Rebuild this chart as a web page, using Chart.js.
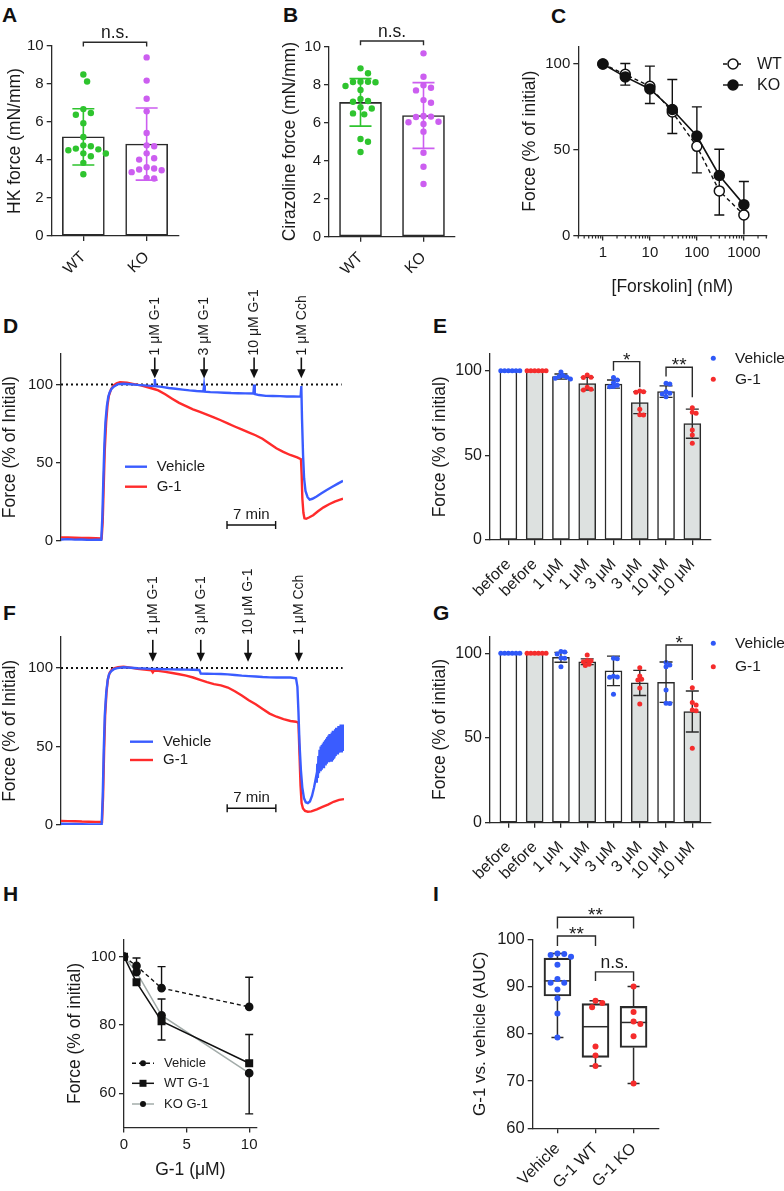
<!DOCTYPE html>
<html><head><meta charset="utf-8"><title>Figure</title>
<script src="https://cdn.jsdelivr.net/npm/chart.js@4.4.1/dist/chart.umd.min.js"></script>
<style>
html,body{margin:0;padding:0;background:#fff}
body{position:relative;width:784px;height:1191px;overflow:hidden}
canvas{position:absolute}
.lab{position:absolute;font-family:'Liberation Sans',Arial,sans-serif;font-weight:bold;font-size:21px;line-height:21px;color:#111}
</style></head><body>
<div class="lab" style="left:2px;top:4px">A</div>
<div class="lab" style="left:283px;top:4px">B</div>
<div class="lab" style="left:551px;top:5px">C</div>
<div class="lab" style="left:3px;top:315px">D</div>
<div class="lab" style="left:433px;top:315px">E</div>
<div class="lab" style="left:3px;top:602px">F</div>
<div class="lab" style="left:433px;top:602px">G</div>
<div class="lab" style="left:3px;top:883px">H</div>
<div class="lab" style="left:433px;top:883px">I</div>
<script>
// ================= DATA =================
// Panel A / B
const catsAB = ['WT', 'KO'];
const A_mean = [5.22, 4.84];
const A_sd = [1.48, 1.90];
const A_WT = [8.5, 8.13, 6.68, 6.47, 6.38, 5.94, 5.21, 4.77, 4.72, 4.6, 4.56, 4.51, 4.35, 4.34, 4.2, 3.85, 3.25];
const A_KO = [9.4, 8.18, 7.22, 6.56, 5.42, 4.77, 4.72, 4.35, 4.09, 4.02, 3.62, 3.55, 3.5, 3.46, 3.36, 3.06, 3.03];
const A_sig = [{from: 0, to: 1, y: 10.2, legs: [9.97, 9.97], text: 'n.s.'}];
const B_mean = [7.07, 6.38];
const B_sd = [1.25, 1.73];
const B_WT = [8.86, 8.6, 8.16, 8.15, 8.14, 8.13, 7.93, 7.72, 7.25, 7.14, 7.1, 6.81, 6.75, 6.49, 6.44, 5.14, 5.0, 4.46];
const B_KO = [9.65, 8.42, 7.97, 7.84, 7.7, 7.19, 7.05, 6.35, 6.32, 6.3, 6.05, 6.02, 5.93, 5.53, 4.42, 3.68, 2.77];
const B_sig = [{from: 0, to: 1, y: 10.3, legs: [10.08, 10.08], text: 'n.s.'}];

// Panel C
const C_forskolin = [1, 3, 10, 30, 100, 300, 1000];
const C_WT = [100, 94, 87, 72, 52, 26, 12];
const C_KO = [100, 92.5, 85.5, 73.5, 58, 35, 18];
const C_errHigh = [null, 100.3, 98.8, 91, 75, 50.3, 31.5];
const C_errLow = [null, 87.7, 77, 59.5, 36.5, 12, -3];
const C_ticks = [1, 10, 100, 1000];

// Panel D (time in min, force % of initial)
const D_vehicle = [[0,1.0],[1,1.2],[2,0.9],[3,1.0],[4,0.7],[5,0.8],[5.8,0.8],[5.95,15],[6.1,40],[6.25,62],[6.4,76],[6.6,86],[6.8,92],[7.0,95],[7.3,97.5],[7.7,99],[8.2,100.3],[9,100.5],[10,100.2],[11,99.8],[12,99.5],[13,99.2],[13.45,99],[13.5,103.5],[13.6,99],[14.5,98.5],[15.5,97.8],[16.5,97.3],[17.5,96.8],[18.5,96.3],[19.5,95.9],[20.5,95.6],[20.6,99.5],[20.7,95.5],[21.5,95.2],[22.5,95],[23.5,94.8],[24.5,94.6],[25.5,94.5],[26.5,94.4],[27.7,94.3],[27.8,100],[27.9,94],[28.5,93.3],[29.5,92.8],[30.5,92.7],[31.5,92.6],[32.5,92.4],[33.5,92.4],[34.5,92.3],[34.6,99],[34.7,78],[34.85,55],[35.0,40],[35.2,32],[35.5,28],[35.8,26.5],[36.2,27],[36.8,28.5],[37.5,30.5],[38.2,32.5],[39.0,34.5],[39.8,36.5],[40.6,38.5]];
const D_G1 = [[0,2.3],[1,2.2],[2,2.1],[3,2.0],[4,1.9],[5,1.8],[5.85,1.6],[6.0,12],[6.15,35],[6.3,58],[6.5,76],[6.7,87],[6.9,93],[7.2,97],[7.6,99.5],[8.0,100.8],[8.5,101.5],[9.5,101.2],[10.5,100.3],[11.5,99.5],[12.5,98.3],[13.5,97],[14.0,96.3],[15,93.8],[16,91],[17,88.3],[18,86.2],[19,84.2],[20,82.5],[21,80.8],[22,79],[23,77.2],[24,75.2],[25,73.2],[26,71.3],[27,69.5],[28,67.6],[29,65.4],[30,62.3],[31,59.3],[32,57],[33,55],[34,53.5],[34.55,52.3],[34.65,42],[34.75,27],[34.9,18],[35.05,14.5],[35.3,14.2],[35.7,15],[36.3,16.5],[37,19],[37.8,21.5],[38.6,23.5],[39.4,25.2],[40.2,26.5],[40.6,27]];
const D_arrowTimes = [13.5, 20.6, 27.8, 34.6];
const arrowLabels = ['1 μM G-1', '3 μM G-1', '10 μM G-1', '1 μM Cch'];

// Panel F
const F_vehicle = [[0,0.8],[1,0.7],[2,0.6],[3,0.5],[4,0.4],[5,0.4],[5.85,0.5],[6.0,18],[6.15,48],[6.3,70],[6.5,84],[6.7,92],[6.9,96],[7.2,98],[7.6,99.3],[8.1,100],[9,100.5],[10,100.2],[11,99.9],[12,99.7],[13,99.5],[14,99.4],[15,99.3],[16,99.2],[17,99.1],[18,99],[19,98.9],[19.9,98.8],[20.1,96.5],[21,96.4],[22,96.3],[23,96.2],[24,96],[25,95.6],[26,95.2],[27,94.9],[28,94.6],[29,94.3],[30,94.1],[31,94],[32,94],[33,94],[33.8,93.5],[34.0,88],[34.15,72],[34.3,52],[34.5,35],[34.7,24],[34.95,17],[35.2,14.5],[35.5,14],[35.8,15],[36.1,18.5],[36.4,24],[36.7,31],[36.78,27],[36.86,39],[36.94,30],[37.02,44],[37.10,33],[37.18,48],[37.26,35],[37.34,50],[37.42,36],[37.50,51],[37.58,37],[37.66,52],[37.74,37],[37.82,53],[37.90,38],[37.98,54],[38.06,38],[38.14,55],[38.22,39],[38.30,56],[38.38,40],[38.46,57],[38.54,40],[38.62,58],[38.70,41],[38.78,58],[38.86,41],[38.94,59],[39.02,42],[39.10,60],[39.18,43],[39.26,60],[39.34,43],[39.42,61],[39.50,44],[39.58,62],[39.66,45],[39.74,62],[39.82,45],[39.90,63],[39.98,46],[40.06,63],[40.14,47],[40.22,64],[40.30,47],[40.38,64],[40.46,48],[40.54,64],[40.62,49],[40.68,60]];
const F_G1 = [[0,2.6],[1,2.5],[2,2.4],[3,2.2],[4,2.1],[5,2.0],[5.9,1.9],[6.05,18],[6.2,47],[6.35,70],[6.55,85],[6.75,93],[7.0,97],[7.3,99],[7.7,100],[8.2,100.6],[9,100.8],[10,100.3],[11,99.6],[12,99],[13,98.6],[13.2,97.3],[13.35,98.3],[14,98.2],[15,97.6],[16,96.9],[17,96.1],[18,95.2],[19,94],[20,92.5],[21,91],[22,89.8],[23,89],[24,87.6],[25,85.2],[26,82.5],[27,79.5],[28,77],[29,74],[30,71],[31,69],[32,67.5],[33,66.3],[33.8,65.8],[34.0,65.5],[34.15,64.8],[34.3,45],[34.45,25],[34.6,14],[34.8,10.5],[35.1,9],[35.5,8.5],[36,8.7],[36.8,10],[37.6,11.5],[38.4,13],[39.2,14.8],[40,16],[40.7,16.5]];
const F_arrowTimes = [13.2, 20.1, 26.9, 34.2];

// Panels E / G
const EG_cats = ['before', 'before', '1 μM', '1 μM', '3 μM', '3 μM', '10 μM', '10 μM'];
const E_vehicleMean = [100, 96.5, 92.1, 87.6];
const E_vehicleSD = [0, 1.5, 2.4, 3.4];
const E_g1Mean = [100, 92.3, 81.1, 68.7];
const E_g1SD = [0, 3.7, 6.5, 8.6];
const E_vehiclePts = [[100,100,100,100,100,100],[99.2,97.2,96.5,96.2,95.5,95.0],[96.0,94.5,92.9,91.3,90.6,90.5],[92.5,92.1,87.6,86.6,86.2,84.6]];
const E_g1Pts = [[100,100,100,100,100,100],[97.4,96.1,95.9,90.2,89.0,88.6],[88.0,87.6,87.2,77.2,74.0,73.8],[78.1,75.4,74.8,65.0,62.0,57.1]];
const E_sig = [{from: 4, to: 5, y: 105.3, legs: [100, 90.2], text: '*'}, {from: 6, to: 7, y: 102, legs: [96.5, 84.3], text: '**'}];
const G_vehicleMean = [100, 97.6, 89.6, 82.9];
const G_vehicleSD = [0, 2.9, 8.7, 11.9];
const G_g1Mean = [100, 95.0, 82.5, 65.6];
const G_g1SD = [0, 1.7, 7.4, 12.1];
const G_vehiclePts = [[100,100,100,100,100,100],[101,100.8,99.6,97.2,97.0,92.1],[97.0,96.8,86.4,86.0,85.8,75.8],[94.5,93.1,92.1,78.3,70.5,70.3]];
const G_g1Pts = [[100,100,100,100,100,100],[99.0,95.7,95.5,95.0,93.5,92.8],[91.5,86.6,84.6,84.2,79.5,70.1],[79.7,70.9,69.5,66.5,66.1,43.9]];
const G_sig = [{from: 6, to: 7, y: 104.9, legs: [94.5, 84.2], text: '*'}];

// Panel H
const H_dose = [0, 1, 3, 10];
const H_vehicle = [100, 97.3, 90.8, 85.3];
const H_wtG1 = [100, 92.5, 81.1, 68.8];
const H_koG1 = [100, 95.5, 82.8, 65.9];
const H_vehicleHigh = [null, 99.6, 97.1, 94.0];
const H_wtHigh = [null, null, 87.6, 77.2];
const H_wtLow = [null, null, 75.6, null];
const H_koLow = [null, null, null, 54.0];

// Panel I
const I_cats = ['Vehicle', 'G-1 WT', 'G-1 KO'];
const I_min = [79.2, 73.2, 69.5];
const I_q1 = [88.0, 75.0, 77.1];
const I_median = [91.2, 81.5, 82.4];
const I_q3 = [96.0, 86.4, 85.8];
const I_max = [97.0, 87.0, 90.0];
const I_vehicle = [97.0, 96.9, 96.7, 96.3, 94.6, 91.6, 90.8, 90.8, 89.4, 87.5, 84.3, 79.2];
const I_wt = [87.0, 86.5, 85.6, 77.3, 75.4, 73.2];
const I_ko = [90.0, 84.6, 82.6, 82.1, 79.5, 69.5];
const I_sig = [{from: 0, to: 2, y: 104.66, legs: [102.3, 102.3], text: '**'}, {from: 0, to: 1, y: 100.7, legs: [98.6, 98.6], text: '**'}, {from: 1, to: 2, y: 93.1, legs: [91.2, 91.2], text: 'n.s.'}];

// ================= HELPERS =================
const FONT = "'Liberation Sans', Arial, Helvetica, sans-serif";
const INK = '#2a2a2a', TXT = '#1a1a1a';
const GREEN = '#2ec42e', MAGENTA = '#cc5ef0';
const BLUE = '#2f58f7', RED = '#f52c2c';
const TRACE_BLUE = '#3a5cff', TRACE_RED = '#ff2b2b';
const GREYBAR = '#dde1e0';
Chart.defaults.font.family = FONT;
Chart.defaults.color = TXT;
Chart.defaults.animation = false;
Chart.defaults.plugins.legend.display = false;
Chart.defaults.plugins.tooltip.enabled = false;

function canvasAt(b) {
  const c = document.createElement('canvas');
  c.width = b.w; c.height = b.h;
  c.style.left = b.x + 'px'; c.style.top = b.y + 'px';
  c.style.width = b.w + 'px'; c.style.height = b.h + 'px';
  document.body.appendChild(c);
  return c;
}
function layoutOf(b, a, tcx, tlh, noX) {
  const pl = (tcx == null) ? 0 : Math.max(0, tcx - tlh / 2 - b.x);
  const xh = b.y + b.h - a.b;
  return {padding: {left: pl, top: a.t - b.y, right: b.x + b.w - a.r, bottom: noX ? xh : 0},
          yW: a.l - b.x - pl, xH: xh};
}
const gridOpt = () => ({drawOnChartArea: false, drawTicks: true, tickLength: 5, color: INK, lineWidth: 1.3, offset: false});
const borderOpt = () => ({color: INK, width: 1.3});
function yScale(L, min, max, ticks, title, tsize, fsize) {
  return {type: 'linear', min, max,
    afterFit: s => { s.width = L.yW; },
    afterBuildTicks: s => { s.ticks = ticks.map(v => ({value: v})); },
    ticks: {font: {size: fsize || 15}, color: TXT, padding: 3, callback: v => String(v)},
    grid: gridOpt(), border: borderOpt(),
    title: {display: !!title, text: title || '', font: {size: tsize || 17.5}, color: TXT, padding: 0}};
}
function xCat(L, min, max, labels, size, pad) {
  return {type: 'linear', min, max, offset: false,
    afterFit: s => { s.height = L.xH; },
    afterBuildTicks: s => { s.ticks = labels.map((_, i) => ({value: i})); },
    ticks: {font: {size: size || 15}, color: TXT, minRotation: 45, maxRotation: 45, autoSkip: false, padding: pad,
            callback: v => labels[v]},
    grid: gridOpt(), border: borderOpt()};
}
function swarm(vals, cx, d, pxX, pxY) {
  const placed = [], out = [], s = d / 2;
  for (const v of vals) {
    const py = v * pxY; let off = 0;
    for (let k = 0; k < 80; k++) {
      const o = k === 0 ? 0 : (k % 2 ? 1 : -1) * Math.ceil(k / 2) * s;
      if (placed.every(p => (o - p.o) ** 2 + (py - p.py) ** 2 >= d * d - 0.01)) { off = o; break; }
    }
    placed.push({o: off, py}); out.push({x: cx + off / pxX, y: v});
  }
  return out;
}
function errLine(ctx, xs, ys, x, from, to, cap, color, lw) {
  if (to == null) return;
  const X = xs.getPixelForValue(x), Y0 = ys.getPixelForValue(from), Y1 = ys.getPixelForValue(to);
  ctx.save(); ctx.strokeStyle = color; ctx.lineWidth = lw;
  ctx.beginPath(); ctx.moveTo(X, Y0); ctx.lineTo(X, Y1);
  ctx.moveTo(X - cap, Y1); ctx.lineTo(X + cap, Y1); ctx.stroke(); ctx.restore();
}
function bracket(chart, b) {
  const {ctx, scales: {x, y}} = chart;
  const x1 = x.getPixelForValue(b.from), x2 = x.getPixelForValue(b.to), Y = y.getPixelForValue(b.y);
  const y1 = y.getPixelForValue(b.legs[0]), y2 = y.getPixelForValue(b.legs[1]);
  ctx.save(); ctx.strokeStyle = INK; ctx.lineWidth = 1.4;
  ctx.beginPath(); ctx.moveTo(x1, y1); ctx.lineTo(x1, Y); ctx.lineTo(x2, Y); ctx.lineTo(x2, y2); ctx.stroke();
  const star = b.text.startsWith('*');
  ctx.fillStyle = TXT; ctx.textAlign = 'center'; ctx.textBaseline = 'alphabetic';
  ctx.font = (star ? '19px ' : '17.5px ') + FONT;
  ctx.fillText(b.text, (x1 + x2) / 2, star ? Y + 4 : Y - 4);
  ctx.restore();
}
function baseOpts(L) {
  return {responsive: false, maintainAspectRatio: false, devicePixelRatio: 1, animation: false,
          layout: {padding: L.padding}, plugins: {legend: {display: false}, tooltip: {enabled: false}}};
}

// ================= PANELS A & B =================
function makeAB(box, area, tcx, title, mean, sd, wt, ko, sig) {
  const L = layoutOf(box, area, tcx, 21);
  const xmin = -0.5, xmax = 1.5, ymin = 0, ymax = 10;
  const pxX = (area.r - area.l) / (xmax - xmin), pxY = (area.b - area.t) / (ymax - ymin);
  const colors = [GREEN, MAGENTA];
  const opts = baseOpts(L);
  opts.scales = {x: xCat(L, xmin, xmax, catsAB, 15.5, 7), y: yScale(L, ymin, ymax, [0, 2, 4, 6, 8, 10], title)};
  new Chart(canvasAt(box), {
    type: 'bar',
    data: {datasets: [
      {type: 'scatter', data: swarm(wt, 0, 7.5, pxX, pxY), backgroundColor: GREEN, borderWidth: 0, pointRadius: 3.2},
      {type: 'scatter', data: swarm(ko, 1, 7.5, pxX, pxY), backgroundColor: MAGENTA, borderWidth: 0, pointRadius: 3.2},
      {type: 'bar', data: mean.map((m, i) => ({x: i, y: m})), backgroundColor: '#ffffff', borderColor: INK,
       borderWidth: 1.6, borderSkipped: false, barThickness: 42}
    ]},
    options: opts,
    plugins: [{id: 'ab',
      afterDatasetDraw(ch, args) {
        if (args.index !== 2) return;
        const {ctx, scales: {x, y}} = ch;
        mean.forEach((m, i) => {
          errLine(ctx, x, y, i, m, m + sd[i], 11, colors[i], 1.6);
          errLine(ctx, x, y, i, m, m - sd[i], 11, colors[i], 1.6);
        });
      },
      afterDraw(ch) { sig.forEach(b => bracket(ch, b)); }
    }]
  });
}
makeAB({x: 0, y: 0, w: 195, h: 280}, {l: 51.7, t: 46, r: 178.3, b: 236}, 15.5, 'HK force (mN/mm)', A_mean, A_sd, A_WT, A_KO, A_sig);
makeAB({x: 262, y: 0, w: 210, h: 280}, {l: 329, t: 46.7, r: 455, b: 236.7}, 290, 'Cirazoline force (mN/mm)', B_mean, B_sd, B_WT, B_KO, B_sig);

// ================= PANEL C =================
(function () {
  const box = {x: 519, y: 0, w: 265, h: 298}, area = {l: 578.3, t: 46.9, r: 766.3, b: 235.5};
  const L = layoutOf(box, area, 530, 21);
  const opts = baseOpts(L);
  opts.scales = {
    x: {type: 'logarithmic', min: 0.3, max: 3000, offset: false,
        afterFit: s => { s.height = L.xH; },
        afterBuildTicks: s => { s.ticks = C_ticks.map(v => ({value: v})); },
        ticks: {font: {size: 15}, color: TXT, padding: 3, maxRotation: 0, autoSkip: false, callback: v => String(v)},
        grid: gridOpt(), border: borderOpt(),
        title: {display: true, text: '[Forskolin] (nM)', font: {size: 17.5}, color: TXT, padding: 0}},
    y: yScale(L, 0, 110, [0, 50, 100], 'Force (% of initial)')
  };
  new Chart(canvasAt(box), {
    type: 'line',
    data: {datasets: [
      {label: 'KO', data: C_forskolin.map((x, i) => ({x, y: C_KO[i]})), borderColor: '#111', borderWidth: 1.6,
       pointRadius: 5, pointBackgroundColor: '#111', pointBorderColor: '#111', pointBorderWidth: 1.5},
      {label: 'WT', data: C_forskolin.map((x, i) => ({x, y: C_WT[i]})), borderColor: '#111', borderWidth: 1.4, borderDash: [4, 3],
       pointRadius: 5, pointBackgroundColor: '#fff', pointBorderColor: '#111', pointBorderWidth: 1.5}
    ]},
    options: opts,
    plugins: [{id: 'c',
      beforeDatasetsDraw(ch) {
        const {ctx, chartArea: a, scales: {x, y}} = ch;
        ctx.save(); ctx.beginPath(); ctx.rect(a.left, a.top - 2, a.right - a.left, a.bottom - a.top + 1); ctx.clip();
        C_forskolin.forEach((f, i) => {
          if (C_errHigh[i] == null) return;
          const mid = (C_WT[i] + C_KO[i]) / 2;
          errLine(ctx, x, y, f, mid, C_errHigh[i], 5, '#111', 1.4);
          errLine(ctx, x, y, f, mid, C_errLow[i], 5, '#111', 1.4);
        });
        ctx.restore();
      },
      afterDraw(ch) {
        const {ctx, chartArea: a, scales: {x}} = ch;
        ctx.save(); ctx.strokeStyle = INK; ctx.lineWidth = 1.2; ctx.beginPath();
        for (const dec of [0.1, 1, 10, 100, 1000]) for (let m = 2; m <= 9; m++) {
          const v = m * dec; if (v < 0.3 - 1e-9 || v > 3000 + 1e-6) continue;
          const X = x.getPixelForValue(v); ctx.moveTo(X, a.bottom); ctx.lineTo(X, a.bottom + 3);
        }
        ctx.stroke();
        // legend
        const rows = [{t: 'WT', dash: [4, 3], fill: '#fff', y: 64}, {t: 'KO', dash: [], fill: '#111', y: 85}];
        ctx.font = '16px ' + FONT; ctx.textBaseline = 'middle'; ctx.textAlign = 'left';
        rows.forEach(r => {
          ctx.setLineDash(r.dash); ctx.lineWidth = 1.4; ctx.strokeStyle = '#111';
          ctx.beginPath(); ctx.moveTo(204, r.y); ctx.lineTo(224, r.y); ctx.stroke(); ctx.setLineDash([]);
          ctx.beginPath(); ctx.arc(214, r.y, 5, 0, Math.PI * 2); ctx.fillStyle = r.fill; ctx.fill(); ctx.lineWidth = 1.5; ctx.stroke();
          ctx.fillStyle = TXT; ctx.fillText(r.t, 238, r.y + 1);
        });
        ctx.restore();
      }
    }]
  });
})();

// ================= PANELS D & F =================
function makeTrace(box, area, xmax, vehicle, g1, arrows, cfg) {
  const L = layoutOf(box, area, 10.5, 21, true);
  const opts = baseOpts(L);
  opts.scales = {
    x: {type: 'linear', display: false, min: 0, max: xmax, offset: false},
    y: yScale(L, 0, 120, [0, 50, 100], 'Force (% of Initial)')
  };
  new Chart(canvasAt(box), {
    type: 'line',
    data: {datasets: [
      {label: 'Vehicle', data: vehicle.map(p => ({x: p[0], y: p[1]})), borderColor: TRACE_BLUE, borderWidth: 2.4, pointRadius: 0, tension: 0},
      {label: 'G-1', data: g1.map(p => ({x: p[0], y: p[1]})), borderColor: TRACE_RED, borderWidth: 2.4, pointRadius: 0, tension: 0}
    ]},
    options: opts,
    plugins: [{id: 'trace',
      beforeDatasetsDraw(ch) {
        const {ctx, scales: {x, y}} = ch;
        ctx.save(); ctx.strokeStyle = '#111'; ctx.lineWidth = 2; ctx.setLineDash([2, 3]);
        ctx.beginPath(); ctx.moveTo(x.getPixelForValue(0), y.getPixelForValue(100)); ctx.lineTo(x.getPixelForValue(cfg.dotEnd), y.getPixelForValue(100)); ctx.stroke();
        ctx.restore();
      },
      afterDraw(ch) {
        const {ctx, chartArea: a, scales: {x, y}} = ch;
        ctx.save();
        // arrows
        arrows.forEach((t, i) => {
          const X = x.getPixelForValue(t), tip = y.getPixelForValue(104), top = y.getPixelForValue(cfg.arrowTop);
          ctx.strokeStyle = '#111'; ctx.fillStyle = '#111'; ctx.lineWidth = 1.6;
          ctx.beginPath(); ctx.moveTo(X, top); ctx.lineTo(X, tip - 6); ctx.stroke();
          ctx.beginPath(); ctx.moveTo(X - 4.2, tip - 9); ctx.lineTo(X + 4.2, tip - 9); ctx.lineTo(X, tip); ctx.closePath(); ctx.fill();
          ctx.save(); ctx.translate(X + 0.5, top - cfg.textGap); ctx.rotate(-Math.PI / 2);
          ctx.font = '14px ' + FONT; ctx.textAlign = 'left'; ctx.textBaseline = 'middle'; ctx.fillStyle = TXT;
          ctx.fillText(arrowLabels[i], 0, 0); ctx.restore();
        });
        // legend
        ctx.font = '15px ' + FONT; ctx.textAlign = 'left'; ctx.textBaseline = 'middle';
        [[TRACE_BLUE, 'Vehicle', cfg.legY[0]], [TRACE_RED, 'G-1', cfg.legY[1]]].forEach(([c, t, ly]) => {
          ctx.strokeStyle = c; ctx.lineWidth = 2.4;
          ctx.beginPath(); ctx.moveTo(cfg.legX[0], ly); ctx.lineTo(cfg.legX[1], ly); ctx.stroke();
          ctx.fillStyle = TXT; ctx.fillText(t, cfg.legX[2], ly);
        });
        // scale bar 7 min
        const x1 = x.getPixelForValue(cfg.barStart), x2 = x.getPixelForValue(cfg.barStart + 7), by = a.bottom - cfg.barUp;
        ctx.strokeStyle = '#111'; ctx.lineWidth = 1.4;
        ctx.beginPath(); ctx.moveTo(x1, by); ctx.lineTo(x2, by);
        ctx.moveTo(x1, by - 4); ctx.lineTo(x1, by + 4); ctx.moveTo(x2, by - 4); ctx.lineTo(x2, by + 4); ctx.stroke();
        ctx.fillStyle = TXT; ctx.textAlign = 'center'; ctx.textBaseline = 'alphabetic';
        ctx.fillText('7 min', (x1 + x2) / 2, by - 6);
        ctx.restore();
      }
    }]
  });
}
makeTrace({x: 0, y: 280, w: 360, h: 280}, {l: 61, t: 353.3, r: 343, b: 541}, 40.6, D_vehicle, D_G1, D_arrowTimes,
  {dotEnd: 40.4, arrowTop: 117.3, textGap: 2, legY: [186.7, 206.7], legX: [125, 147, 156.7], barStart: 23.9, barUp: 16});
makeTrace({x: 0, y: 565, w: 360, h: 280}, {l: 61, t: 636.7, r: 344, b: 825}, 40.7, F_vehicle, F_G1, F_arrowTimes,
  {dotEnd: 40.5, arrowTop: 118, textGap: 5, legY: [176.7, 195], legX: [130, 153, 163], barStart: 23.9, barUp: 16.7});

// ================= PANELS E & G =================
function makeEG(box, area, vMean, vSD, gMean, gSD, vPts, gPts, sig, legY) {
  const L = layoutOf(box, area, 440.5, 21);
  const xmin = -0.7, xmax = 7.7, ymin = 0, ymax = 110;
  const pxX = (area.r - area.l) / (xmax - xmin), pxY = (area.b - area.t) / (ymax - ymin);
  const bars = [], fills = [];
  vMean.forEach((m, k) => { bars.push({x: 2 * k, y: m}, {x: 2 * k + 1, y: gMean[k]}); fills.push('#ffffff', GREYBAR); });
  const vDots = [], gDots = [];
  vPts.forEach((arr, k) => vDots.push(...swarm(arr, 2 * k, 3.8, pxX, pxY)));
  gPts.forEach((arr, k) => gDots.push(...swarm(arr, 2 * k + 1, 3.8, pxX, pxY)));
  const opts = baseOpts(L);
  opts.scales = {x: xCat(L, xmin, xmax, EG_cats, 16, 10), y: yScale(L, ymin, ymax, [0, 50, 100], 'Force (% of initial)', 17.5, 16)};
  new Chart(canvasAt(box), {
    type: 'bar',
    data: {datasets: [
      {type: 'scatter', data: vDots, backgroundColor: BLUE, borderWidth: 0, pointRadius: 2.5},
      {type: 'scatter', data: gDots, backgroundColor: RED, borderWidth: 0, pointRadius: 2.5},
      {type: 'bar', data: bars, backgroundColor: fills, borderColor: INK, borderWidth: 1.5, borderSkipped: false, barThickness: 17}
    ]},
    options: opts,
    plugins: [{id: 'eg',
      afterDatasetDraw(ch, args) {
        if (args.index !== 2) return;
        const {ctx, scales: {x, y}} = ch;
        vMean.forEach((m, k) => {
          if (vSD[k] > 0) { errLine(ctx, x, y, 2 * k, m, m + vSD[k], 6.5, INK, 1.4); errLine(ctx, x, y, 2 * k, m, m - vSD[k], 6.5, INK, 1.4); }
          const g = gMean[k];
          if (gSD[k] > 0) { errLine(ctx, x, y, 2 * k + 1, g, g + gSD[k], 6.5, INK, 1.4); errLine(ctx, x, y, 2 * k + 1, g, g - gSD[k], 6.5, INK, 1.4); }
        });
      },
      afterDraw(ch) {
        sig.forEach(b => bracket(ch, b));
        const ctx = ch.ctx; ctx.save();
        ctx.font = '15.5px ' + FONT; ctx.textAlign = 'left'; ctx.textBaseline = 'middle';
        [[BLUE, 'Vehicle', legY[0]], [RED, 'G-1', legY[1]]].forEach(([c, t, ly]) => {
          ctx.fillStyle = c; ctx.beginPath(); ctx.arc(293.3, ly, 2.5, 0, Math.PI * 2); ctx.fill();
          ctx.fillStyle = TXT; ctx.fillText(t, 315, ly);
        });
        ctx.restore();
      }
    }]
  });
}
makeEG({x: 420, y: 330, w: 364, h: 290}, {l: 490, t: 353.7, r: 710.7, b: 540}, E_vehicleMean, E_vehicleSD, E_g1Mean, E_g1SD, E_vehiclePts, E_g1Pts, E_sig, [28.3, 49.3]);
makeEG({x: 420, y: 615, w: 364, h: 290}, {l: 490, t: 636.3, r: 710.7, b: 822.7}, G_vehicleMean, G_vehicleSD, G_g1Mean, G_g1SD, G_vehiclePts, G_g1Pts, G_sig, [28.3, 51.7]);

// ================= PANEL H =================
(function () {
  const box = {x: 60, y: 920, w: 210, h: 261}, area = {l: 124, t: 939.6, r: 256.7, b: 1127.5};
  const L = layoutOf(box, area, 75, 21);
  const opts = baseOpts(L);
  opts.scales = {
    x: {type: 'linear', min: 0, max: 10.6, offset: false,
        afterFit: s => { s.height = L.xH; },
        afterBuildTicks: s => { s.ticks = [0, 5, 10].map(v => ({value: v})); },
        ticks: {font: {size: 15}, color: TXT, padding: 3, maxRotation: 0, callback: v => String(v)},
        grid: gridOpt(), border: borderOpt(),
        title: {display: true, text: 'G-1 (μM)', font: {size: 17.5}, color: TXT, padding: 0}},
    y: yScale(L, 50, 105, [60, 80, 100], 'Force (% of initial)')
  };
  const KO_LINE = '#a3acaa';
  new Chart(canvasAt(box), {
    type: 'line',
    data: {datasets: [
      {label: 'Vehicle', data: H_dose.map((x, i) => ({x, y: H_vehicle[i]})), borderColor: '#111', borderWidth: 1.4, borderDash: [4, 3],
       pointRadius: 3.6, pointBackgroundColor: '#111', pointBorderColor: '#111'},
      {label: 'WT G-1', data: H_dose.map((x, i) => ({x, y: H_wtG1[i]})), borderColor: '#111', borderWidth: 1.5,
       pointStyle: 'rect', pointRadius: 4.6, pointBackgroundColor: '#111', pointBorderColor: '#111'},
      {label: 'KO G-1', data: H_dose.map((x, i) => ({x, y: H_koG1[i]})), borderColor: KO_LINE, borderWidth: 1.5,
       pointRadius: 3.6, pointBackgroundColor: '#111', pointBorderColor: '#111'}
    ]},
    options: opts,
    plugins: [{id: 'h',
      beforeDatasetsDraw(ch) {
        const {ctx, scales: {x, y}} = ch;
        H_dose.forEach((d, i) => {
          errLine(ctx, x, y, d, H_vehicle[i], H_vehicleHigh[i], 4, '#111', 1.4);
          errLine(ctx, x, y, d, H_wtG1[i], H_wtHigh[i], 4, '#111', 1.4);
          errLine(ctx, x, y, d, H_wtG1[i], H_wtLow[i], 4, '#111', 1.4);
          errLine(ctx, x, y, d, H_koG1[i], H_koLow[i], 4, '#111', 1.4);
        });
      },
      afterDraw(ch) {
        const ctx = ch.ctx; ctx.save();
        ctx.font = '13px ' + FONT; ctx.textAlign = 'left'; ctx.textBaseline = 'middle';
        const rows = [['Vehicle', '#111', [4, 3], 'circle', 143.3], ['WT G-1', '#111', [], 'rect', 163.3], ['KO G-1', KO_LINE, [], 'circle', 184]];
        rows.forEach(([t, c, dash, shape, ly]) => {
          ctx.strokeStyle = c; ctx.lineWidth = 1.5; ctx.setLineDash(dash);
          ctx.beginPath(); ctx.moveTo(72, ly); ctx.lineTo(94, ly); ctx.stroke(); ctx.setLineDash([]);
          ctx.fillStyle = '#111';
          if (shape === 'rect') ctx.fillRect(79.5, ly - 3.5, 7, 7);
          else { ctx.beginPath(); ctx.arc(83, ly, 3, 0, Math.PI * 2); ctx.fill(); }
          ctx.fillStyle = TXT; ctx.fillText(t, 104, ly);
        });
        ctx.restore();
      }
    }]
  });
})();

// ================= PANEL I =================
(function () {
  const box = {x: 460, y: 880, w: 230, h: 311}, area = {l: 532.7, t: 939.3, r: 658.3, b: 1128.3};
  const L = layoutOf(box, area, 480, 20.4);
  const xmin = -0.65, xmax = 2.65, ymin = 60, ymax = 100;
  const pxX = (area.r - area.l) / (xmax - xmin), pxY = (area.b - area.t) / (ymax - ymin);
  const opts = baseOpts(L);
  opts.scales = {x: xCat(L, xmin, xmax, I_cats, 16, 6), y: yScale(L, ymin, ymax, [60, 70, 80, 90, 100], 'G-1 vs. vehicle (AUC)', 17, 16.5)};
  new Chart(canvasAt(box), {
    type: 'bar',
    data: {datasets: [
      {type: 'scatter', data: swarm(I_vehicle, 0, 6.8, pxX, pxY), backgroundColor: BLUE, borderWidth: 0, pointRadius: 3},
      {type: 'scatter', data: swarm(I_wt, 1, 6.8, pxX, pxY).concat(swarm(I_ko, 2, 6.8, pxX, pxY)), backgroundColor: RED, borderWidth: 0, pointRadius: 3},
      {type: 'bar', data: I_q1.map((q, i) => ({x: i, y: [q, I_q3[i]]})), backgroundColor: 'rgba(0,0,0,0)', borderColor: INK,
       borderWidth: 1.5, borderSkipped: false, barThickness: 27}
    ]},
    options: opts,
    plugins: [{id: 'box',
      beforeDatasetsDraw(ch) {
        const {ctx, scales: {x, y}} = ch;
        ctx.save(); ctx.strokeStyle = INK; ctx.lineWidth = 1.5;
        I_median.forEach((m, i) => {
          const X = x.getPixelForValue(i);
          ctx.beginPath(); ctx.moveTo(X - 13.5, y.getPixelForValue(m)); ctx.lineTo(X + 13.5, y.getPixelForValue(m)); ctx.stroke();
          errLine(ctx, x, y, i, I_q3[i], I_max[i], 6, INK, 1.5);
          errLine(ctx, x, y, i, I_q1[i], I_min[i], 6, INK, 1.5);
        });
        ctx.restore();
      },
      afterDraw(ch) { I_sig.forEach(b => bracket(ch, b)); }
    }]
  });
})();
</script>
</body></html>
